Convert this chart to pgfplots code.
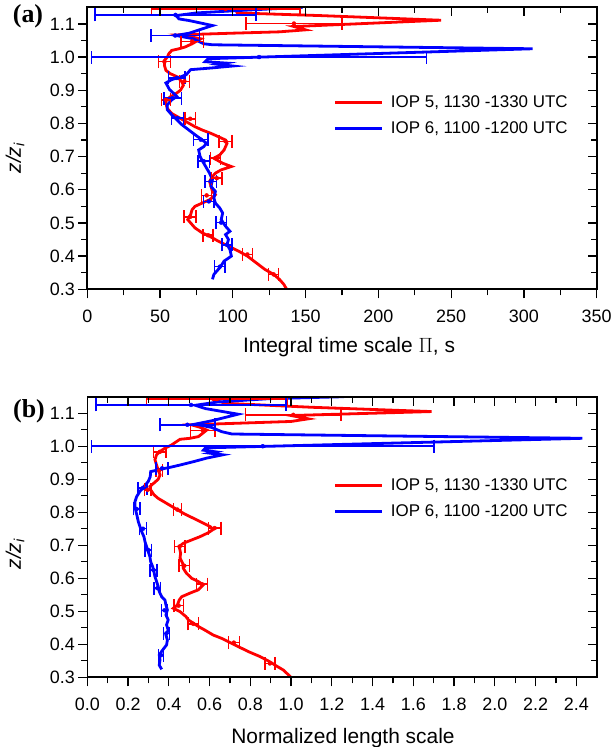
\documentclass[border=0pt]{standalone}
\usepackage{fontspec}
\setmainfont{Liberation Sans}
\newfontfamily\labfont{Liberation Serif}
\usepackage{pgfplots}
\pgfplotsset{compat=1.18}

\pgfplotsset{
  frame/.style={scale only axis, width=509.4bp, ymin=0.3, ymax=1.15,
    ytick={0.3,0.4,0.5,0.6,0.7,0.8,0.9,1.0,1.1},
    minor x tick num=1, minor y tick num=1,
    axis line style={line width=1.6bp},
    major tick length=9bp, minor tick length=6bp,
    tick style={black, line width=1.3bp}},
  outer/.style={frame, tick align=outside, xtick pos=left, ytick pos=left,
    tick label style={font=\fontsize{18}{21}\selectfont},
    xticklabel style={yshift=-8bp},
    /pgf/number format/assume math mode=true,
    yticklabel style={/pgf/number format/.cd, fixed, fixed zerofill, precision=1},
    legend style={draw=none, fill=none, anchor=north west,
      font=\fontsize{17}{20}\selectfont,
      nodes={inner sep=0pt, text height=13bp, text depth=4bp},
      row sep=9bp, column sep=7bp},
    legend cell align=left,
    legend image code/.code={\draw[##1, line width=3bp] (0bp,0bp) -- (47bp,0bp);}},
  inner/.style={frame, tick align=inside, xtick pos=right, ytick pos=right,
    xticklabels={}, yticklabels={}},
  prof/.style={line width=2.8bp},
  ebar/.style={forget plot, only marks, mark=none,
    error bars/.cd, x dir=both, x explicit, error mark=|,
    error bar style={line width=1.5bp},
    error mark options={line width=1.5bp, mark size=6.5bp}},
}

\begin{document}
\begin{tikzpicture}
\useasboundingbox (0,0) rectangle (613bp,747bp);

% (a) integral time scale
\begin{axis}[outer, at={(87.3bp,457.7bp)}, anchor=south west, height=282bp,
  xmin=0, xmax=350, xtick={0,50,100,150,200,250,300,350},
  legend style={at={(rel axis cs:0.478,0.70)}}]
\addplot[red, prof] coordinates {
(137,0.30) (135,0.315) (132,0.33) (128,0.345) (122,0.36) (116,0.38) (110,0.40)
(104,0.415) (97,0.43) (90,0.445) (84,0.46) (79,0.47) (74,0.485) (71,0.50) (69,0.51)
(71,0.525) (72,0.54) (74,0.55) (79,0.56) (84,0.57) (88,0.585) (86,0.595) (85,0.61)
(84,0.625) (86,0.64) (88,0.65) (92,0.66) (99,0.67) (93,0.68) (87,0.695) (91,0.705)
(94,0.72) (95,0.73) (96,0.74) (95,0.75) (90,0.76) (85,0.77) (79,0.78) (74,0.79)
(70,0.80) (66,0.81) (62,0.82) (58,0.83) (55,0.845) (54,0.86) (54,0.87) (57,0.88)
(61,0.89) (64,0.90) (66,0.915) (65,0.925) (62,0.94) (57,0.95) (54,0.96) (53,0.975)
(53,0.99) (55,1.0) (56,1.01) (58,1.02) (63,1.025) (67,1.03) (72,1.04) (76,1.05)
(78,1.055) (70,1.062) (64,1.067) (100,1.072) (132,1.076) (150,1.082) (142,1.092)
(243,1.111) (160,1.125) (103,1.133) (102,1.142) (106,1.15)
};
\addlegendentry{IOP 5, 1130 -1330 UTC}
\addplot[blue, prof] coordinates {
(86,0.33) (87,0.345) (91,0.365) (94,0.385) (99,0.40) (98,0.42) (96,0.435) (97,0.45)
(95,0.465) (98,0.475) (95,0.49) (92,0.51) (93,0.53) (91,0.545) (88,0.56) (87,0.575)
(88,0.595) (85,0.61) (86,0.63) (84,0.65) (82,0.665) (80,0.68) (77.5,0.70) (76.5,0.72)
(80,0.73) (82,0.74) (79,0.75) (74,0.766) (69.5,0.781) (65,0.796) (61.5,0.811)
(58,0.826) (55,0.841) (55,0.856) (58,0.871) (61.5,0.881) (59,0.892) (56.5,0.902)
(54,0.922) (58,0.932) (64,0.94) (68,0.947) (71,0.962) (85,0.967) (100,0.973)
(90,0.978) (95,0.982) (81,0.986) (83,0.995) (306,1.025) (86,1.037) (80,1.04)
(73,1.055) (61,1.065) (70,1.072) (86,1.095) (70,1.11) (63,1.115) (61,1.125)
(75,1.133) (103,1.14) (148,1.15)
};
\addlegendentry{IOP 6, 1100 -1200 UTC}
\addplot[red, ebar] coordinates {
(128,0.345) +- (3.5,0) (110,0.405) +- (3.5,0) (83,0.463) +- (3.5,0)
(70.6,0.518) +- (4,0) (82,0.583) +- (3.5,0) (89,0.635) +- (3.5,0)
(88,0.695) +- (3.5,0) (95,0.746) +- (4.5,0) (70.7,0.814) +- (3.5,0)
(54,0.871) +- (3,0) (66.7,0.927) +- (3.5,0) (53,0.986) +- (4,0)
(72,1.047) +- (7.7,0) (142,1.101) +- (33,0) (95,1.145) +- (51,0)
};
\addplot[blue, ebar] coordinates {
(91,0.368) +- (3.5,0) (96,0.434) +- (3.5,0) (92,0.501) +- (3.5,0)
(83.5,0.565) +- (3.7,0) (84.8,0.625) +- (3.8,0) (80,0.686) +- (3.8,0)
(78,0.751) +- (5,0) (62,0.816) +- (4.2,0) (58.6,0.876) +- (6,0)
(61.5,0.937) +- (5.7,0) (118,1.0) +- (115,0) (60.4,1.065) +- (16.6,0)
(60.6,1.127) +- (55.3,0)
};
\end{axis}
\begin{axis}[inner, at={(87.3bp,457.7bp)}, anchor=south west, height=282bp,
  xmin=0, xmax=350, xtick={0,50,100,150,200,250,300,350}]
\end{axis}

% (b) normalized length scale
\begin{axis}[outer, at={(87.3bp,69.7bp)}, anchor=south west, height=280.6bp,
  xmin=0, xmax=2.5, xtick={0,0.2,0.4,0.6,0.8,1.0,1.2,1.4,1.6,1.8,2.0,2.2,2.4},
  xticklabel style={/pgf/number format/.cd, fixed, fixed zerofill, precision=1},
  legend style={at={(rel axis cs:0.478,0.7207)}}]
\addplot[red, prof] coordinates {
(1.0,0.30) (0.962,0.322) (0.921,0.337) (0.896,0.347) (0.847,0.363) (0.79,0.378)
(0.741,0.393) (0.708,0.403) (0.659,0.418) (0.618,0.428) (0.577,0.443) (0.545,0.454)
(0.52,0.464) (0.496,0.474) (0.484,0.484) (0.455,0.499) (0.422,0.509) (0.442,0.519)
(0.451,0.534) (0.463,0.544) (0.504,0.555) (0.545,0.565) (0.569,0.58) (0.545,0.59)
(0.512,0.60) (0.487,0.615) (0.471,0.63) (0.468,0.645) (0.455,0.661) (0.458,0.676)
(0.451,0.696) (0.471,0.706) (0.512,0.716) (0.553,0.726) (0.594,0.738) (0.618,0.748)
(0.602,0.757) (0.569,0.767) (0.52,0.782) (0.471,0.797) (0.43,0.812) (0.389,0.827)
(0.348,0.842) (0.327,0.853) (0.311,0.868) (0.307,0.878) (0.33,0.89) (0.348,0.90)
(0.357,0.913) (0.348,0.928) (0.34,0.943) (0.332,0.959) (0.34,0.974) (0.357,0.984)
(0.381,0.994) (0.414,1.004) (0.438,1.014) (0.455,1.021) (0.504,1.024) (0.545,1.029)
(0.566,1.039) (0.586,1.049) (0.55,1.058) (0.51,1.065) (1.0,1.075) (1.085,1.083)
(1.0,1.093) (1.69,1.105) (1.1,1.118) (0.68,1.13) (0.62,1.14) (0.6,1.15)
};
\addlegendentry{IOP 5, 1130 -1330 UTC}
\addplot[blue, prof] coordinates {
(0.365,0.324) (0.353,0.337) (0.357,0.353) (0.353,0.368) (0.37,0.383) (0.389,0.398)
(0.393,0.413) (0.386,0.428) (0.397,0.443) (0.389,0.459) (0.397,0.474) (0.386,0.489)
(0.393,0.504) (0.386,0.519) (0.381,0.534) (0.365,0.544) (0.353,0.56) (0.348,0.575)
(0.34,0.59) (0.332,0.605) (0.327,0.62) (0.321,0.635) (0.311,0.65) (0.307,0.666)
(0.299,0.681) (0.291,0.696) (0.283,0.711) (0.278,0.726) (0.267,0.741) (0.258,0.757)
(0.25,0.772) (0.245,0.787) (0.239,0.802) (0.234,0.817) (0.234,0.832) (0.242,0.847)
(0.258,0.863) (0.278,0.878) (0.299,0.893) (0.309,0.908) (0.311,0.923) (0.357,0.93)
(0.406,0.936) (0.455,0.943) (0.52,0.953) (0.586,0.964) (0.665,0.974) (0.6,0.979)
(0.63,0.983) (0.57,0.988) (0.58,0.995) (2.43,1.024) (0.71,1.037) (0.66,1.044)
(0.61,1.057) (0.53,1.067) (0.61,1.077) (0.74,1.097) (0.58,1.114) (0.53,1.124)
(0.64,1.134) (0.89,1.144) (1.26,1.15)
};
\addlegendentry{IOP 6, 1100 -1200 UTC}
\addplot[red, ebar] coordinates {
(0.896,0.342) +- (0.025,0) (0.719,0.405) +- (0.027,0) (0.52,0.462) +- (0.025,0)
(0.448,0.517) +- (0.023,0) (0.563,0.582) +- (0.027,0) (0.476,0.638) +- (0.025,0)
(0.453,0.696) +- (0.026,0) (0.625,0.752) +- (0.031,0) (0.442,0.808) +- (0.02,0)
(0.296,0.868) +- (0.016,0) (0.353,0.927) +- (0.016,0) (0.356,0.983) +- (0.03,0)
(0.567,1.047) +- (0.06,0) (1.011,1.095) +- (0.234,0) (0.635,1.143) +- (0.345,0)
};
\addplot[blue, ebar] coordinates {
(0.362,0.367) +- (0.013,0) (0.388,0.433) +- (0.015,0) (0.379,0.503) +- (0.014,0)
(0.344,0.57) +- (0.016,0) (0.325,0.625) +- (0.017,0) (0.3,0.685) +- (0.016,0)
(0.273,0.75) +- (0.018,0) (0.242,0.81) +- (0.016,0) (0.272,0.873) +- (0.022,0)
(0.367,0.933) +- (0.03,0) (0.861,1.0) +- (0.84,0) (0.491,1.065) +- (0.135,0)
(0.509,1.125) +- (0.466,0)
};
\end{axis}
\begin{axis}[inner, at={(87.3bp,69.7bp)}, anchor=south west, height=280.6bp,
  xmin=0, xmax=2.5, xtick={0,0.2,0.4,0.6,0.8,1.0,1.2,1.4,1.6,1.8,2.0,2.2,2.4}]
\end{axis}

% panel letters and axis titles
\node[font=\labfont\bfseries\fontsize{26}{28}\selectfont] at (28bp,730.3bp) {(a)};
\node[font=\labfont\bfseries\fontsize{26}{28}\selectfont] at (29bp,336bp) {(b)};
\node[rotate=90, font=\fontsize{21}{24}\selectfont] at (15bp,589bp) {\textit{z/z}\textsubscript{\textit{i}}};
\node[rotate=90, font=\fontsize{21}{24}\selectfont] at (15bp,193bp) {\textit{z/z}\textsubscript{\textit{i}}};
\node[anchor=base, font=\fontsize{21}{24}\selectfont] at (349bp,394bp) {Integral time scale $\Pi$, s};
\node[anchor=base, font=\fontsize{21}{24}\selectfont] at (343bp,4bp) {Normalized length scale};
\end{tikzpicture}
\end{document}
